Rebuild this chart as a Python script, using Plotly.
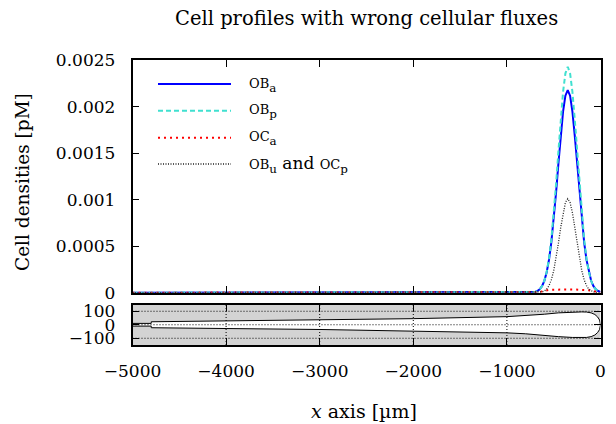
import plotly.graph_objects as go

W, H = 616, 424
OFF = 8  # page body margin: screenshot pixel = figure pixel + 8

# ---------------- data ----------------
x_main = [-5000, -700, -675, -650, -625, -600, -575, -550, -525, -500, -475, -450, -425,
          -400, -375, -350, -325, -300, -275, -250, -225, -200, -175, -150, -125,
          -100, -75, -50, -25, 0]

ob_a = [0, 0.0000084, 0.0000181, 0.0000369, 0.0000706, 0.000128, 0.000220, 0.000355,
        0.000544, 0.000786, 0.001073, 0.001385, 0.001689, 0.001947, 0.002119, 0.002180,
        0.002119, 0.001947, 0.001689, 0.001385, 0.001073, 0.000786, 0.000544, 0.000355,
        0.000220, 0.000128, 0.0000706, 0.0000369, 0.0000181, 0.0000084]

ob_p = [0, 0.0000076, 0.0000167, 0.0000350, 0.0000688, 0.000128, 0.000224, 0.000369,
        0.000574, 0.000841, 0.001163, 0.001517, 0.001864, 0.002160, 0.002360, 0.002430,
        0.002360, 0.002160, 0.001864, 0.001517, 0.001163, 0.000841, 0.000574, 0.000369,
        0.000224, 0.000128, 0.0000688, 0.0000350, 0.0000167, 0.0000076]

oc_a = [0, 0, 0, 0.000005, 0.000014, 0.000022, 0.000027, 0.000030, 0.000032, 0.000033,
        0.000034, 0.000035, 0.000035, 0.000035, 0.000035, 0.000035, 0.000035, 0.000035,
        0.000034, 0.000034, 0.000033, 0.000032, 0.000031, 0.000030, 0.000027, 0.000022,
        0.000015, 0.000008, 0.000003, 0]

ob_u_oc_p = [0, 0, 0.000001, 0.0000030, 0.0000076, 0.0000179, 0.0000385, 0.0000764,
             0.000140, 0.000236, 0.000368, 0.000530, 0.000702, 0.000860, 0.000970, 0.001010,
             0.000970, 0.000860, 0.000702, 0.000530, 0.000368, 0.000236, 0.000140, 0.0000764,
             0.0000385, 0.0000179, 0.0000076, 0.0000030, 0.000001, 0]

# geometry of the domain (half-width vs x)
shape_x = [-5000, -4800, -4800, -4000, -3000, -2000, -1000, -800, -600, -450, -300,
           -200, -150, -100, -60, -30, -10, 0]
shape_hw = [10, 10, 22, 28, 35, 45, 60, 67, 78, 88, 94, 95, 94, 88, 76, 57, 35, 0]

y_ticks = [0, 0.0005, 0.001, 0.0015, 0.002, 0.0025]
y_tick_text = ["0", "0.0005", "0.001", "0.0015", "0.002", "0.0025"]
x_ticks = [-5000, -4000, -3000, -2000, -1000, 0]
x_tick_text = ["\u22125000", "\u22124000", "\u22123000", "\u22122000", "\u22121000", "0"]
y2_ticks = [-100, 0, 100]
y2_tick_text = ["\u2212100", "0", "100"]

SC = '<span style="font-size:13px">{}</span>'
legend_labels = [
    SC.format("OB") + "<sub>a</sub>",
    SC.format("OB") + "<sub>p</sub>",
    SC.format("OC") + "<sub>a</sub>",
    SC.format("OB") + "<sub>u</sub> and " + SC.format("OC") + "<sub>p</sub>",
]

# ---------------- styles ----------------
FONT = "DejaVu Serif"
FS = 17
styles = [
    dict(color="#0000ff", width=2, dash="solid"),
    dict(color="#40e0d0", width=2, dash="5px,3px"),
    dict(color="#ff0000", width=2, dash="2px,4px"),
    dict(color="#222222", width=1.3, dash="1px,1.5px"),
]

def px(x):
    return (x - OFF) / W

def py(y):
    return 1 - (y - OFF) / H

fig = go.Figure()
series = [ob_a, ob_p, oc_a, ob_u_oc_p]
for s, st in zip(series, styles):
    fig.add_trace(go.Scatter(x=x_main, y=s, mode="lines", line=st, showlegend=False,
                             xaxis="x", yaxis="y", hoverinfo="skip"))

poly_x = shape_x + shape_x[::-1]
poly_y = shape_hw + [-h for h in shape_hw[::-1]]
fig.add_trace(go.Scatter(x=poly_x, y=poly_y, mode="lines", fill="toself",
                         fillcolor="white", line=dict(color="black", width=1),
                         showlegend=False, xaxis="x2", yaxis="y2", hoverinfo="skip"))

xdom = [px(132.5), px(600.5)]
axis_common = dict(showline=True, linecolor="black", linewidth=1.5, mirror="ticks",
                   ticks="inside", ticklen=7, tickwidth=1.2, tickcolor="black",
                   showgrid=False, zeroline=False, automargin=False,
                   tickfont=dict(family=FONT, size=FS, color="black"))

fig.update_layout(
    width=W, height=H,
    margin=dict(l=0, r=0, t=0, b=0, pad=0, autoexpand=False),
    paper_bgcolor="white",
    plot_bgcolor="white",
    xaxis=dict(domain=xdom, range=[-5000, 0], tickvals=x_ticks, showticklabels=False,
               anchor="y", **axis_common),
    yaxis=dict(domain=[py(292.7), py(60.3)], range=[0, 0.0025], tickvals=y_ticks,
               ticktext=y_tick_text, anchor="x", ticklabelstandoff=12, **axis_common),
    xaxis2=dict(domain=xdom, range=[-5000, 0], tickvals=x_ticks, ticktext=x_tick_text,
                anchor="y2", ticklabelstandoff=10, **axis_common),
    yaxis2=dict(domain=[py(345), py(304.5)], range=[-150, 150], tickvals=y2_ticks,
                ticktext=y2_tick_text, anchor="x2", ticklabelstandoff=12, **axis_common),
)

fig.add_shape(type="rect", xref="x2", yref="y2", x0=-5000, x1=0, y0=-150, y1=150,
              fillcolor="#d3d3d3", line=dict(width=0), layer="below")
for yv in y2_ticks:
    fig.add_shape(type="line", xref="x2", yref="y2", x0=-5000, x1=0, y0=yv, y1=yv,
                  line=dict(color="black", width=1, dash="1px,2px"), layer="above")
for xv in x_ticks[1:-1]:
    fig.add_shape(type="line", xref="x2", yref="y2", x0=xv, x1=xv, y0=-150, y1=150,
                  line=dict(color="black", width=1, dash="1px,2px"), layer="above")

leg_y = [84, 110.7, 137.7, 164]
for st, lab, ly in zip(styles, legend_labels, leg_y):
    fig.add_shape(type="line", xref="paper", yref="paper", x0=px(158), x1=px(231),
                  y0=py(ly), y1=py(ly), line=st)
    fig.add_annotation(x=px(247), y=py(ly + 1), xref="paper", yref="paper",
                       xanchor="left", yanchor="middle", text=lab, showarrow=False,
                       font=dict(family=FONT, size=FS, color="black"))

fig.add_annotation(x=px(366), y=py(19), xref="paper", yref="paper", showarrow=False,
                   text="Cell profiles with wrong cellular fluxes", xanchor="center",
                   yanchor="middle", font=dict(family=FONT, size=19.5, color="black"))
fig.add_annotation(x=px(22), y=py(182), xref="paper", yref="paper", showarrow=False,
                   text="Cell densities [pM]", textangle=-90, xanchor="center",
                   yanchor="middle", font=dict(family=FONT, size=18.5, color="black"))
fig.add_annotation(x=px(364), y=py(411), xref="paper", yref="paper", showarrow=False,
                   text="<i>x</i> axis [\u00b5m]", xanchor="center", yanchor="middle",
                   font=dict(family=FONT, size=19, color="black"))

fig.write_html("out.html")
